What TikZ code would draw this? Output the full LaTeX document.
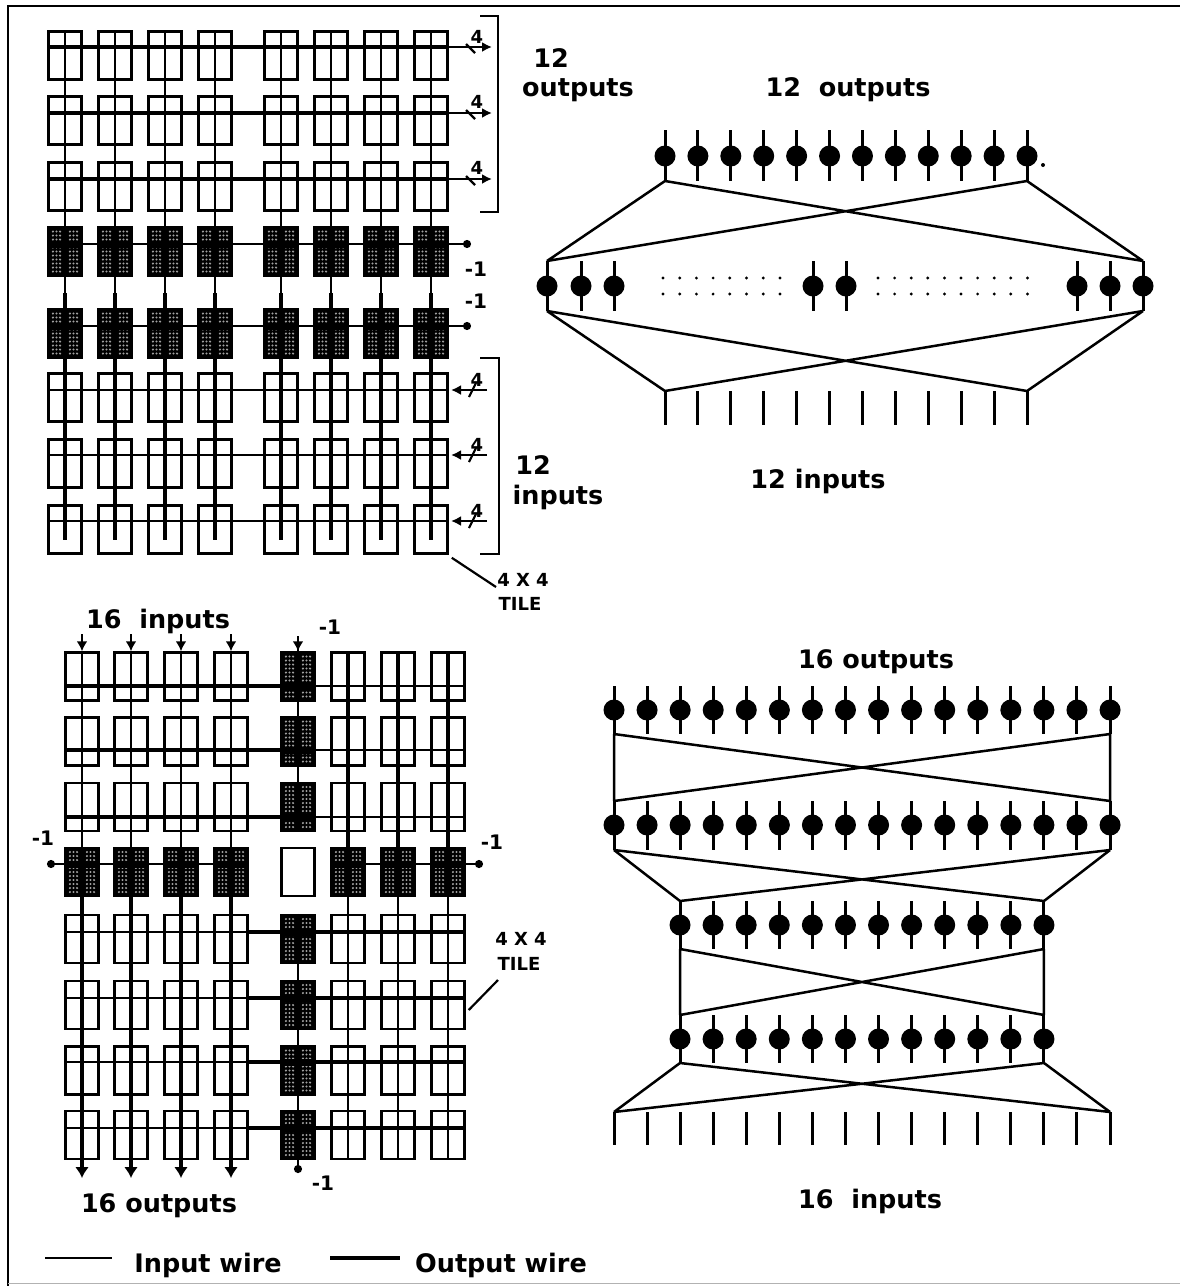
\documentclass[tikz,border=0pt]{standalone}
\usepackage{fontspec}
\setmainfont{DejaVu Sans}
\usetikzlibrary{arrows.meta}

\begin{document}
\begin{tikzpicture}[
  x=1pt, y=-1pt,
  tile/.style={
    rectangle,
    draw=black,
    line width=2.5pt,
    minimum width=33pt,
    minimum height=48pt,
    inner sep=0pt
  },
  darktile/.style={
    tile,
    fill=black,
    path picture={
      \foreach \sx in {-8.5,8.5}
        \foreach \dx in {-3.6,0,3.6}
          \foreach \dy in {-20,-16,...,21}
            \fill[gray!75] (\sx+\dx,\dy) circle (1.15);
      \fill[black] (-20,#1-3.5) rectangle (20,#1+3.5);
    }
  },
  inwire/.style={line width=2.2pt, draw=black},
  outwire/.style={line width=4pt, draw=black},
  net/.style={line width=2.5pt, draw=black},
  stub/.style={line width=3pt, draw=black},
  cell/.style={circle, fill=black, minimum size=21pt, inner sep=0pt},
  big/.style={font=\fontsize{25.5}{30}\bfseries, inner sep=0pt, align=center, yshift=-2pt},
  small/.style={font=\fontsize{18}{21}\bfseries, inner sep=0pt},
  neg/.style={font=\fontsize{20}{23}\bfseries, inner sep=0pt},
  bus/.style={line width=2.2pt, draw=black, -{Latex[length=10pt,width=10pt]}},
  tieoff/.style={line width=2.2pt, draw=black, -{Circle[length=8pt,width=8pt]}},
  bigarrow/.style={line width=4pt, draw=black, -{Latex[length=11pt,width=14pt]}},
  smallarrow/.style={line width=2.2pt, draw=black, -{Latex[length=10pt,width=11pt]}}
]
\useasboundingbox (0,0) rectangle (1180,1286);
\fill[white] (0,0) rectangle (1180,1286);

% frame
\draw[line width=1.8pt] (8,1286) -- (8,6) -- (1180,6);
\draw[line width=0.8pt, gray!60] (8,1283) -- (1180,1283);

% --- 12 x 12 array, tiles
\foreach \r/\yy in {1/55.5,2/120.5,3/186.5,6/397.5,7/463.5,8/529.5}
  \foreach \c/\xx in {1/65,2/115,3/165,4/215,5/281,6/331,7/381,8/431}
    \node[tile] (a\r\c) at (\xx,\yy) {};
\foreach \r/\yy/\wy in {4/251.5/-7.5,5/333.5/-7.5}
  \foreach \c/\xx in {1/65,2/115,3/165,4/215,5/281,6/331,7/381,8/431}
    \node[darktile=\wy] (a\r\c) at (\xx,\yy) {};

% vertical wires
\foreach \c/\xx in {1/65,2/115,3/165,4/215,5/281,6/331,7/381,8/431} {
  \coordinate (as\c) at (\xx,293);
  \coordinate (ae\c) at (\xx,540);
  \draw[inwire] (a1\c.north) -- (as\c);
  \draw[outwire] (as\c) -- (ae\c);
}

% horizontal wires
\foreach \r/\wy/\sy in {1/47/37,2/113/102,3/179/168} {
  \coordinate (ae\r) at (492,\wy);
  \draw[outwire] (a\r1.west |- ae\r) -- (a\r8.east |- ae\r);
  \draw[bus] (a\r8.east |- ae\r) -- (ae\r);
  \draw[inwire] (466,\wy-3) -- (475,\wy+6);
  \node[small] (an\r) at (477,\sy) {4};
}
\foreach \r/\wy in {4/244,5/326} {
  \coordinate (ae\r) at (471,\wy);
  \draw[tieoff] (a\r1.west |- ae\r) -- (ae\r);
}
\foreach \r/\wy/\sy in {6/390/380,7/455/445,8/521/511} {
  \coordinate (ae\r) at (487,\wy);
  \draw[inwire] (a\r1.west |- ae\r) -- (a\r8.east |- ae\r);
  \draw[bus] (ae\r) -- (451,\wy);
  \draw[inwire] (469,\wy+7) -- (476,\wy-7);
  \node[small] (an\r) at (477,\sy) {4};
}

% brackets
\draw[inwire] (480,16) -- (498,16) -- (498,212) -- (480,212);
\draw[inwire] (480,358) -- (499,358) -- (499,554) -- (480,554);

% labels
\node[big] (atop) at (551,56) {12};
\node[big] (aout) at (578,88) {outputs};
\node[big] (abtm) at (533,463) {12};
\node[big] (ain) at (558,495) {inputs};
\node[neg] (am1) at (476,269) {-1};
\node[neg] (am2) at (476,301) {-1};
\node[small] (atl) at (523,580) {4 X 4};
\node[small] (atn) at (520,604) {TILE};
\coordinate (atc) at (496,587);
\draw[inwire] (a88.south east) ++(3pt,-3pt) -- (atc);

% --- 12 x 12 network
\node[big] (ntop) at (848,88) {12\ \ outputs};
\node[big] (nbot) at (818,479) {12 inputs};
\foreach \i in {1,...,12} {
  \pgfmathsetmacro{\xx}{665+32.91*(\i-1)}
  \node[cell] (na\i) at (\xx,156) {};
  \coordinate (nau\i) at (\xx,130);
  \coordinate (nad\i) at (\xx,181);
  \draw[stub] (nau\i) -- (nad\i);
  \coordinate (nbu\i) at (\xx,391);
  \coordinate (nbd\i) at (\xx,425);
  \draw[stub] (nbu\i) -- (nbd\i);
}
\foreach \i/\xx in {1/547,2/581,3/614,4/813,5/846,6/1077,7/1110,8/1143} {
  \node[cell] (nm\i) at (\xx,286) {};
  \coordinate (nmu\i) at (\xx,261);
  \coordinate (nmd\i) at (\xx,311);
  \draw[stub] (nmu\i) -- (nmd\i);
}
\draw[net] (nad1) -- (nmu8) (nad12) -- (nmu1) (nad1) -- (nmu1) (nad12) -- (nmu8);
\draw[net] (nmd1) -- (nbu12) (nmd8) -- (nbu1) (nmd1) -- (nbu1) (nmd8) -- (nbu12);
\fill (1043,165) circle (2);
\foreach \yy in {278,294} {
  \foreach \i in {0,...,7} \fill (663+16.7*\i,\yy) circle (1.6);
  \foreach \i in {0,...,9} \fill (878+16.6*\i,\yy) circle (1.6);
}

% --- 16 x 16 array, tiles
\foreach \r/\yy in {1/676.5,2/741.5,3/807,5/939,6/1005,7/1070.5,8/1135}
  \foreach \c/\xx in {1/82,2/131,3/181,4/231,6/348,7/398,8/448}
    \node[tile] (b\r\c) at (\xx,\yy) {};
\foreach \c/\xx in {1/82,2/131,3/181,4/231,6/348,7/398,8/448}
  \node[darktile=-7.5] (b4\c) at (\xx,872) {};
\node[tile] (b45) at (298,872) {};
\foreach \r/\yy/\wy in {1/676.5/9.5,2/741.5/8.5,3/807/10}
  \node[darktile=\wy] (b\r5) at (298,\yy) {};
\foreach \r/\yy/\wy in {5/939/-7,6/1005/-7,7/1070.5/-8.5,8/1135/-7}
  \node[darktile=\wy] (b\r5) at (298,\yy) {};

% vertical wires
\foreach \c/\xx in {1/82,2/131,3/181,4/231} {
  \coordinate (bt\c) at (\xx,634);
  \coordinate (be\c) at (\xx,1178);
  \draw[smallarrow] (bt\c) -- (b1\c.north);
  \draw[inwire] (b1\c.north) -- (b4\c.north);
  \draw[bigarrow] (b4\c.south) -- (be\c);
}
\foreach \c in {6,7,8} {
  \draw[outwire] (b1\c.north) -- (b4\c.north);
  \draw[inwire] (b4\c.south) -- (b8\c.south);
}
\coordinate (btt) at (298,637);
\coordinate (btb) at (298,1173);
\draw[inwire] (btt) -- (b35.south);
\draw[inwire] (b55.north) -- (btb);
\draw[smallarrow] (298,636) -- (b15.north);
\draw[tieoff] (b85.south) -- (btb);

% horizontal wires
\foreach \r/\wy in {1/686,2/750,3/817} {
  \draw[outwire] (b\r1.west |- 0,\wy) -- (b\r5.west |- 0,\wy);
  \draw[inwire] (b\r5.east |- 0,\wy) -- (b\r8.east |- 0,\wy);
}
\foreach \r/\wy in {5/932,6/998,7/1062,8/1128} {
  \draw[inwire] (b\r1.west |- 0,\wy) -- (b\r4.east |- 0,\wy);
  \draw[outwire] (b\r4.east |- 0,\wy) -- (b\r5.west |- 0,\wy);
  \draw[outwire] (b\r5.east |- 0,\wy) -- (b\r8.east |- 0,\wy);
}
\coordinate (bwl) at (47,864);
\coordinate (bwr) at (483,864);
\draw[tieoff] (b44.east |- bwl) -- (bwl);
\draw[tieoff] (b46.west |- bwr) -- (bwr);

% labels
\node[big] (binp) at (158,619) {16\ \ inputs};
\node[big] (bout) at (159,1204) {16 outputs};
\node[neg] (bm1) at (330,627) {-1};
\node[neg] (bm2) at (43,838) {-1};
\node[neg] (bm3) at (492,842) {-1};
\node[neg] (bm4) at (323,1183) {-1};
\node[small] (btl) at (521,939) {4 X 4};
\node[small] (btn) at (519,964) {TILE};
\coordinate (btc) at (498,980);
\draw[inwire] (b68.east) ++(3pt,-5pt) -- (btc);

% --- 16 x 16 network
\node[big] (mtop) at (876,660) {16 outputs};
\node[big] (mbot) at (870,1199) {16\ \ inputs};
\foreach \i in {1,...,16} {
  \pgfmathsetmacro{\xx}{614+33.07*(\i-1)}
  \node[cell] (ma\i) at (\xx,710) {};
  \coordinate (mau\i) at (\xx,686);
  \coordinate (mad\i) at (\xx,734);
  \draw[stub] (mau\i) -- (mad\i);
  \node[cell] (mb\i) at (\xx,825) {};
  \coordinate (mbu\i) at (\xx,801);
  \coordinate (mbd\i) at (\xx,850);
  \draw[stub] (mbu\i) -- (mbd\i);
  \coordinate (mcu\i) at (\xx,1112);
  \coordinate (mcd\i) at (\xx,1145);
  \draw[stub] (mcu\i) -- (mcd\i);
}
\foreach \i in {1,...,12} {
  \pgfmathsetmacro{\xx}{680+33.09*(\i-1)}
  \node[cell] (md\i) at (\xx,925) {};
  \coordinate (mdu\i) at (\xx,901);
  \coordinate (mdd\i) at (\xx,949);
  \draw[stub] (mdu\i) -- (mdd\i);
  \node[cell] (me\i) at (\xx,1039) {};
  \coordinate (meu\i) at (\xx,1015);
  \coordinate (med\i) at (\xx,1063);
  \draw[stub] (meu\i) -- (med\i);
}
\draw[net] (mad1) -- (mbu16) (mad16) -- (mbu1) (mad1) -- (mbu1) (mad16) -- (mbu16);
\draw[net] (mbd1) -- (mdu12) (mbd16) -- (mdu1) (mbd1) -- (mdu1) (mbd16) -- (mdu12);
\draw[net] (mdd1) -- (meu12) (mdd12) -- (meu1) (mdd1) -- (meu1) (mdd12) -- (meu12);
\draw[net] (med1) -- (mcu16) (med12) -- (mcu1) (med1) -- (mcu1) (med12) -- (mcu16);

% legend
\coordinate (li1) at (45,1258);
\coordinate (li2) at (112,1258);
\coordinate (lo1) at (330,1258);
\coordinate (lo2) at (400,1258);
\draw[inwire] (li1) -- (li2);
\draw[outwire] (lo1) -- (lo2);
\node[big] (lin) at (208,1263) {Input wire};
\node[big] (lout) at (501,1263) {Output wire};

\end{tikzpicture}
\end{document}
